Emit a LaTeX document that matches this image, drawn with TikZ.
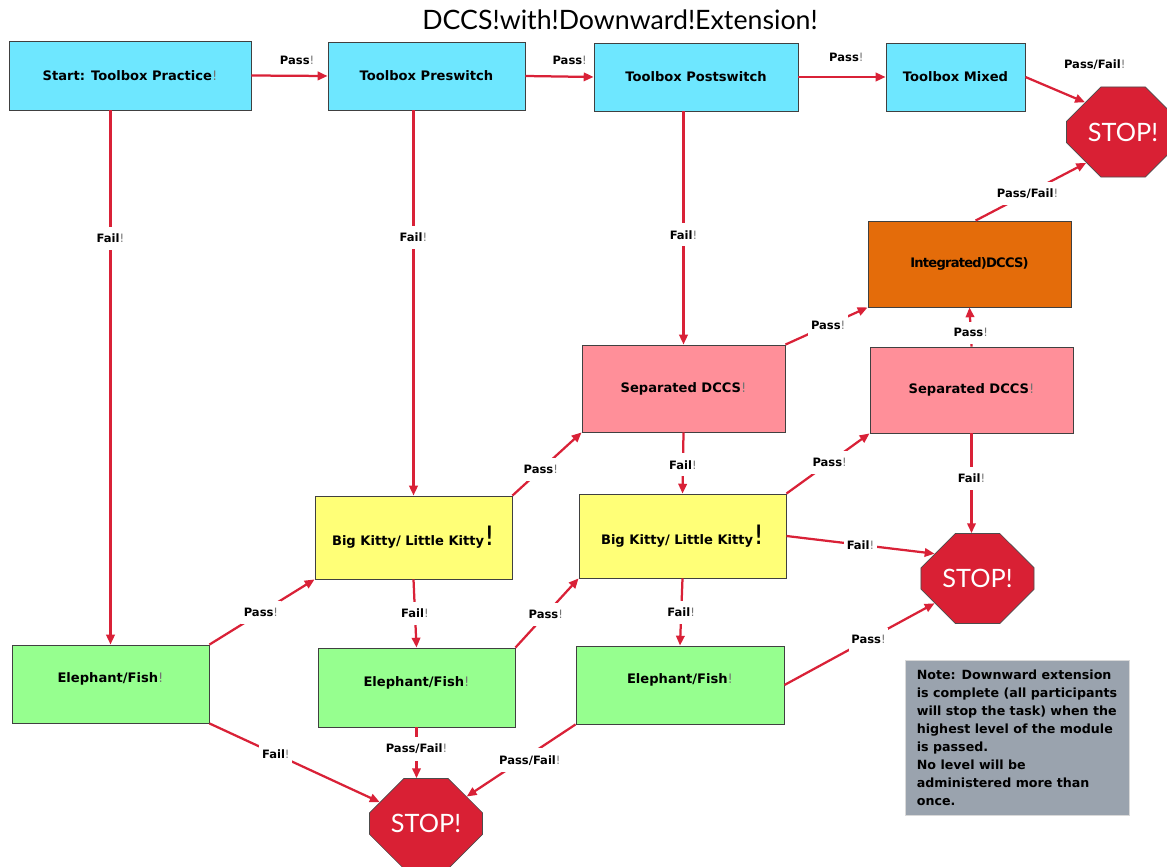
\documentclass[tikz,border=0pt]{standalone}
\usepackage{fontspec}
\setmainfont{DejaVu Sans}
\newfontfamily\latofont{Lato}
\usepackage{tikz}
\usetikzlibrary{arrows.meta,shapes.misc}
\definecolor{toolcyan}{RGB}{110,231,255}
\definecolor{seppink}{RGB}{255,143,153}
\definecolor{kittyyellow}{RGB}{255,255,119}
\definecolor{elegreen}{RGB}{150,255,143}
\definecolor{integorange}{RGB}{228,108,10}
\definecolor{stopred}{RGB}{217,32,52}
\definecolor{linered}{RGB}{217,33,55}
\definecolor{notegray}{RGB}{154,163,174}
\def\xm{{\color{black!55}\mdseries!}}
\def\bigxm{{\fontsize{19}{19}\selectfont\mdseries!}}
\tikzset{
	level/.style={draw=black!75, line width=0.6pt, font=\fontsize{9.3}{11}\selectfont\bfseries, inner sep=2pt},
	stopsign/.style={chamfered rectangle, chamfered rectangle xsep=0.5cm, chamfered rectangle ysep=0.625cm, fill=stopred, draw=black!70, line width=0.5pt, minimum width=2.825cm, minimum height=2.25cm, inner sep=0pt, text=white, font=\latofont\fontsize{18}{18}\selectfont},
	flow/.style={draw=linered, line width=1.6pt, -{Triangle[length=7pt,width=6pt]}},
	flowlabel/.style={fill=white, text=black, font=\fontsize{8.2}{10}\selectfont\bfseries, inner xsep=2pt, inner ysep=5pt},
	notebox/.style={fill=notegray, draw=black!15, align=left, minimum width=5.6cm, minimum height=3.875cm, font=\fontsize{9}{12.8}\selectfont\bfseries},
}

\begin{document}
\begin{tikzpicture}[x=0.025cm, y=-0.025cm]
	%%%%% START %%%%%
	\useasboundingbox (0,0) rectangle (1167,867);
	
	\node[font=\latofont\fontsize{19}{19}\selectfont] (title) at (620,20) {DCCS!with!Downward!Extension!};
	
	% toolbox row
	\node[level, fill=toolcyan, minimum width=6.05cm, minimum height=1.725cm] (start) at (130,75.5) {Start: Toolbox Practice\xm};
	\node[level, fill=toolcyan, minimum width=4.925cm, minimum height=1.7cm] (pre) at (426.5,76) {Toolbox Preswitch};
	\node[level, fill=toolcyan, minimum width=5.1cm, minimum height=1.7cm] (post) at (696,77) {Toolbox Postswitch};
	\node[level, fill=toolcyan, minimum width=3.475cm, minimum height=1.7cm] (mixed) at (955.5,77) {Toolbox Mixed};
	
	\node[level, fill=integorange, minimum width=5.075cm, minimum height=2.15cm] (integ) at (969.5,264) {\addfontfeatures{LetterSpace=-6}Integrated)DCCS)};
	\node[level, fill=seppink, minimum width=5.075cm, minimum height=2.175cm] (sepL) at (683.5,388.5) {Separated DCCS\xm};
	\node[level, fill=seppink, minimum width=5.075cm, minimum height=2.15cm] (sepR) at (971.5,390) {Separated DCCS\xm};
	
	\node[level, fill=kittyyellow, minimum width=4.925cm, minimum height=2.075cm] (kittyL) at (413.5,537.5) {Big Kitty/ Little Kitty\bigxm};
	\node[level, fill=kittyyellow, minimum width=5.175cm, minimum height=2.1cm] (kittyR) at (682.5,536) {Big Kitty/ Little Kitty\bigxm};
	
	\node[level, fill=elegreen, minimum width=4.925cm, minimum height=1.95cm, text depth=0.32cm] (eleL) at (110.5,684) {Elephant/Fish\xm};
	\node[level, fill=elegreen, minimum width=4.925cm, minimum height=1.975cm, text depth=0.32cm] (eleM) at (416.5,687.5) {Elephant/Fish\xm};
	\node[level, fill=elegreen, minimum width=5.2cm, minimum height=1.95cm, text depth=0.32cm] (eleR) at (680,685) {Elephant/Fish\xm};
	
	% stop signs
	\node[stopsign] (stopT) at (1123,132) {STOP!};
	\node[stopsign] (stopM) at (977.5,578.5) {STOP!};
	\node[stopsign] (stopB) at (426,823.5) {STOP!};
	
	\node[notebox] (note) at (1017,737.5) {Note: Downward extension\\is complete (all participants\\will stop the task) when the\\highest level of the module\\is passed.\\No level will be\\administered more than\\once.};
	
	% pass along the top
	\draw[flow] (start.east) -- node[flowlabel, fill=none, pos=0.6, above=2pt] {Pass\xm} (pre.west);
	\draw[flow] (pre.east) -- node[flowlabel, fill=none, pos=0.65, above=3pt] {Pass\xm} (post.west);
	\draw[flow] (post.east) -- node[flowlabel, fill=none, pos=0.55, above=5pt] {Pass\xm} (mixed.west);
	\draw[flow] (mixed.east) -- node[flowlabel, fill=none, above right=3.5pt, yshift=5pt] {Pass/Fail\xm} (stopT.142);
	\draw[flow] (integ.82) -- node[flowlabel, pos=0.47] {Pass/Fail\xm} (stopT.220);
	
	% fail down from the toolbox
	\draw[flow] (eleL.north |- start.south) -- node[flowlabel, pos=0.24] {Fail\xm} (eleL.north);
	\draw[flow] (kittyL.north |- pre.south) -- node[flowlabel, pos=0.33] {Fail\xm} (kittyL.north);
	\draw[flow] (sepL.north |- post.south) -- node[flowlabel, pos=0.53] {Fail\xm} (sepL.north);
	
	% climbing back up
	\draw[flow] (eleL.north east) -- node[flowlabel, pos=0.49] {Pass\xm} (kittyL.south west);
	\draw[flow] (eleM.north east) -- node[flowlabel, pos=0.48] {Pass\xm} (kittyR.south west);
	\draw[flow] (kittyL.north east) -- node[flowlabel, pos=0.41] {Pass\xm} (sepL.south west);
	\draw[flow] (kittyR.north east) -- node[flowlabel, pos=0.52] {Pass\xm} (sepR.south west);
	\draw[flow] (sepL.north east) -- node[flowlabel, pos=0.52] {Pass\xm} (integ.south west);
	\draw[flow] (sepR.north) -- node[flowlabel, pos=0.35] {Pass\xm} (integ.south);
	
	% falling down
	\draw[flow] (kittyL.south) -- node[flowlabel, pos=0.5] {Fail\xm} (eleM.north);
	\draw[flow] (sepL.south) -- node[flowlabel, pos=0.53] {Fail\xm} (kittyR.north);
	\draw[flow] (kittyR.south) -- node[flowlabel, pos=0.51] {Fail\xm} (eleR.north);
	
	% into the stop signs
	\draw[flow] (eleL.south east) -- node[flowlabel, pos=0.39] {Fail\xm} (stopB);
	\draw[flow] (eleM.south) -- node[flowlabel, pos=0.42] {Pass/Fail\xm} (eleM.south |- stopB.north);
	\draw[flow] (eleR.south west) -- node[flowlabel, pos=0.42, yshift=-4pt] {Pass/Fail\xm} (stopB);
	\draw[flow] (kittyR.east) -- node[flowlabel, pos=0.5] {Fail\xm} (stopM.150);
	\draw[flow] (eleR.east) -- node[flowlabel, pos=0.56] {Pass\xm} (stopM.210);
	\draw[flow] (sepR.south) -- node[flowlabel, pos=0.45] {Fail\xm} (sepR.south |- stopM.north);
	
	%%%%% END %%%%%
\end{tikzpicture}
\end{document}
